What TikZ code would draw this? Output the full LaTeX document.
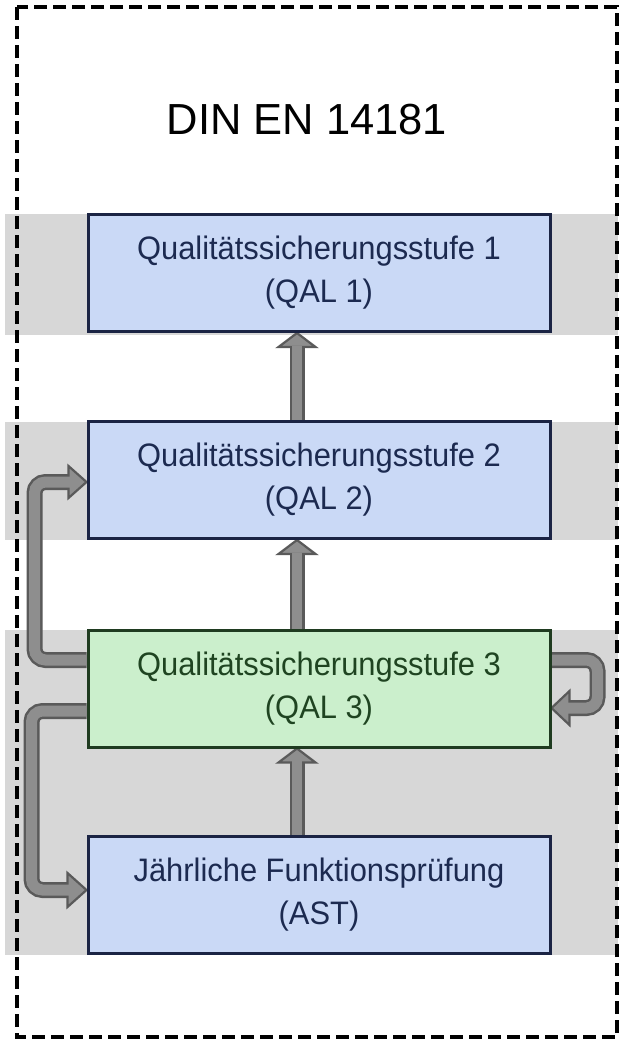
\documentclass[tikz,border=0pt]{standalone}
\usepackage{fontspec}
\setmainfont{Liberation Sans}
\newfontfamily\boxfont[FakeStretch=0.95]{Liberation Sans}
\usetikzlibrary{calc}
\definecolor{bandgray}{HTML}{D7D7D7}
\definecolor{bluefill}{HTML}{CAD9F6}
\definecolor{blueedge}{HTML}{1B2444}
\definecolor{bluetext}{HTML}{1C2A50}
\definecolor{greenfill}{HTML}{CBEFCC}
\definecolor{greenedge}{HTML}{1F3B20}
\definecolor{greentext}{HTML}{1F4421}
\definecolor{arrowedge}{HTML}{5A5A5A}
\definecolor{arrowfill}{HTML}{8E8E8E}
\pgfdeclarelayer{bands}
\pgfdeclarelayer{arrows}
\pgfsetlayers{bands,arrows,main}
\tikzset{
  qbox/.style={draw=blueedge, fill=bluefill, text=bluetext, line width=3pt,
    minimum width=462pt, minimum height=117pt, inner sep=0pt, align=center,
    font=\boxfont\fontsize{32.5}{43}\selectfont},
  gbox/.style={qbox, draw=greenedge, fill=greenfill, text=greentext},
  outershaft/.style={draw=arrowedge, line width=#1},
  innershaft/.style={draw=arrowfill, line width=#1},
  arrowhead/.style={fill=arrowfill, draw=arrowedge, line width=2.2pt, line join=miter},
  borderline/.style={draw=black, line width=3.4pt, dash pattern=on 13pt off 6pt}
}
\begin{document}
\begin{tikzpicture}[x=1pt,y=-1pt]
\useasboundingbox (0,0) rectangle (625,1042);
\begin{pgfonlayer}{bands}
  \fill[white] (0,0) rectangle (625,1042);
  \fill[bandgray] (5,214) rectangle (618,335);
  \fill[bandgray] (5,422) rectangle (618,540);
  \fill[bandgray] (5,630) rectangle (618,955);
  \draw[borderline] (17,7) rectangle (617,1037);
\end{pgfonlayer}

\node[anchor=base, font=\fontsize{43.5}{50}\selectfont] (title) at (307,134) {DIN EN 14181};

\node[qbox] (q1) at (319,273) {Qualitätssicherungsstufe 1\\(QAL 1)};
\node[qbox] (q2) at (319,480) {Qualitätssicherungsstufe 2\\(QAL 2)};
\node[gbox] (q3) at (319,688.5) {Qualitätssicherungsstufe 3\\(QAL 3)};
\node[qbox] (ast) at (319,894.5) {Jährliche Funktionsprüfung\\(AST)};

\begin{pgfonlayer}{arrows}
  % vertical arrows
  \foreach \lo/\hi in {q2/q1, q3/q2, ast/q3}{
    \coordinate (s) at ([xshift=-22pt]\lo.north);
    \coordinate (t) at ([xshift=-22pt]\hi.south);
    \draw[outershaft=15pt] (s) -- ($(t)+(0,14)$);
    \filldraw[arrowhead] ($(t)+(-18.5,14)$) -- (t) -- ($(t)+(18.5,14)$) -- cycle;
    \draw[innershaft=10pt] (s) -- ($(t)+(0,12.5)$);
  }
  % left loop: QAL3 -> QAL2
  \coordinate (sA) at ($(q3.west)+(0,-28.5)$);
  \coordinate (tA) at ($(q2.west)+(0,2)$);
  \draw[outershaft=16pt, rounded corners=11pt] (sA) -- ($(sA)+(-52,0)$) -- ($(tA)+(-52,0)$) -- ($(tA)+(-18,0)$);
  \filldraw[arrowhead] ($(tA)+(-18,-16)$) -- (tA) -- ($(tA)+(-18,16)$) -- cycle;
  \draw[innershaft=11pt, rounded corners=11pt] (sA) -- ($(sA)+(-52,0)$) -- ($(tA)+(-52,0)$) -- ($(tA)+(-16.5,0)$);
  % left loop: QAL3 -> AST
  \coordinate (sB) at ($(q3.west)+(0,22.5)$);
  \coordinate (tB) at ($(ast.west)+(0,-4.5)$);
  \draw[outershaft=16pt, rounded corners=11pt] (sB) -- ($(sB)+(-55,0)$) -- ($(tB)+(-55,0)$) -- ($(tB)+(-19,0)$);
  \filldraw[arrowhead] ($(tB)+(-19,-17)$) -- (tB) -- ($(tB)+(-19,17)$) -- cycle;
  \draw[innershaft=11pt, rounded corners=11pt] (sB) -- ($(sB)+(-55,0)$) -- ($(tB)+(-55,0)$) -- ($(tB)+(-17.5,0)$);
  % right loop: QAL3 -> QAL3
  \coordinate (sC) at ($(q3.east)+(0,-28.5)$);
  \coordinate (tC) at ($(q3.east)+(0,19.5)$);
  \draw[outershaft=16pt, rounded corners=11pt] (sC) -- ($(sC)+(46,0)$) -- ($(tC)+(46,0)$) -- ($(tC)+(18,0)$);
  \filldraw[arrowhead] ($(tC)+(18,-17)$) -- (tC) -- ($(tC)+(18,17)$) -- cycle;
  \draw[innershaft=11pt, rounded corners=11pt] (sC) -- ($(sC)+(46,0)$) -- ($(tC)+(46,0)$) -- ($(tC)+(16.5,0)$);
\end{pgfonlayer}
\end{tikzpicture}
\end{document}
